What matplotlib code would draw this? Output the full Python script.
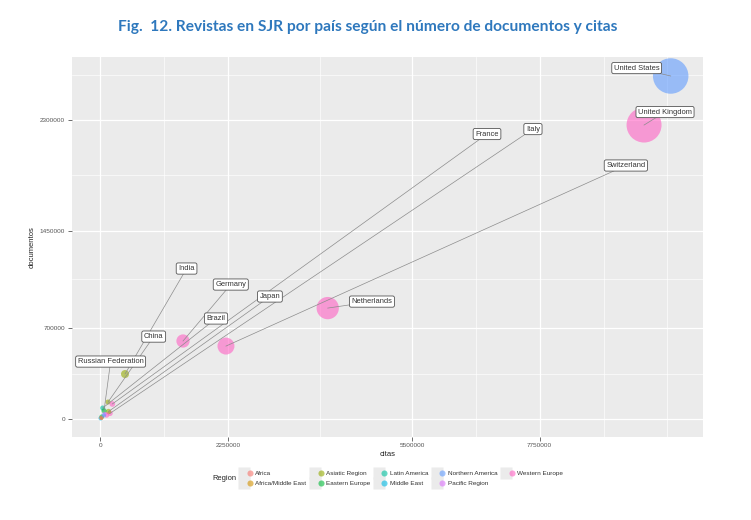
import matplotlib
matplotlib.use("Agg")
import matplotlib.pyplot as plt
import numpy as np
from matplotlib.lines import Line2D
from matplotlib.legend_handler import HandlerTuple
from matplotlib.ticker import FixedLocator, FuncFormatter

# ---------------- data ----------------
paises = ["United States", "United Kingdom", "Netherlands", "Switzerland", "Germany",
          "India", "China", "France", "Italy", "Japan", "Brazil", "Russian Federation",
          "Spain", "Poland", "Iran", "Egypt", "South Africa", "Australia", "Canada"]
region = ["Northern America", "Western Europe", "Western Europe", "Western Europe",
          "Western Europe", "Asiatic Region", "Asiatic Region", "Western Europe",
          "Western Europe", "Asiatic Region", "Latin America", "Eastern Europe",
          "Western Europe", "Eastern Europe", "Middle East", "Africa/Middle East",
          "Africa", "Pacific Region", "Northern America"]
citas = [10060000, 9590000, 4010000, 2215000, 1457000,
         434000, 134000, 210000, 170000, 143000, 40000, 64000,
         110000, 23000, 5000, 20000, 15000, 75000, 60000]
documentos = [2639000, 2262000, 855000, 563000, 602000,
              348000, 133000, 118000, 46000, 60000, 87000, 66000,
              33000, 20000, 8000, 12000, 10000, 40000, 30000]
n_revistas = [3500, 3400, 1380, 800, 490,
              180, 70, 90, 80, 80, 70, 70,
              80, 60, 55, 45, 45, 55, 55]
etiquetados = ["United States", "United Kingdom", "France", "Italy", "Switzerland",
               "Netherlands", "Japan", "Germany", "Brazil", "India", "China",
               "Russian Federation"]

regiones = ["Africa", "Africa/Middle East", "Asiatic Region", "Eastern Europe",
            "Latin America", "Middle East", "Northern America", "Pacific Region",
            "Western Europe"]

# ---------------- layout / style ----------------
colores = dict(zip(regiones, ["#F8766D", "#D39200", "#93AA00", "#00BA38", "#00C19F",
                              "#00B9E3", "#619CFF", "#DB72FB", "#FF61C3"]))
pos_etiqueta = {
    "United States": (9.46e6, 2.70e6),
    "United Kingdom": (9.96e6, 2.362e6),
    "France": (6.82e6, 2.193e6),
    "Italy": (7.63e6, 2.231e6),
    "Switzerland": (9.27e6, 1.951e6),
    "Netherlands": (4.79e6, 0.905e6),
    "Japan": (2.99e6, 0.944e6),
    "Germany": (2.30e6, 1.036e6),
    "Brazil": (2.04e6, 0.775e6),
    "India": (1.52e6, 1.159e6),
    "China": (0.94e6, 0.636e6),
    "Russian Federation": (0.18e6, 0.444e6),
}
FONT = ["Liberation Sans", "DejaVu Sans"]
plt.rcParams["font.family"] = FONT

W, H = 751, 520
fig = plt.figure(figsize=(W / 100, H / 100), dpi=100)
fig.patch.set_facecolor("white")
L, R, T, B = 71.5, 703, 57, 436.5
ax = fig.add_axes([L / W, 1 - B / H, (R - L) / W, (B - T) / H])
ax.set_facecolor("#EBEBEB")
for s in ax.spines.values():
    s.set_visible(False)
ax.set_xlim(-0.51e6, 10.63e6)
ax.set_ylim(-0.132e6, 2.785e6)

xt = [0, 2250000, 5500000, 7750000]
yt = [0, 700000, 1450000, 2300000]
ax.xaxis.set_major_locator(FixedLocator(xt))
ax.yaxis.set_major_locator(FixedLocator(yt))
ax.xaxis.set_minor_locator(FixedLocator([1125000, 3875000, 6625000, 8875000, 10000000]))
ax.yaxis.set_minor_locator(FixedLocator([350000, 1075000, 1875000, 2650000]))
fmt = FuncFormatter(lambda v, p: "%d" % int(round(v)))
ax.xaxis.set_major_formatter(fmt)
ax.yaxis.set_major_formatter(fmt)
ax.grid(which="major", color="white", lw=0.9)
ax.grid(which="minor", color="white", lw=0.45)
ax.set_axisbelow(True)
ax.tick_params(which="major", length=2.75, width=0.5, color="#333333",
               labelsize=4.6, labelcolor="#555555", pad=1.8)
ax.tick_params(which="minor", length=0)
ax.set_xlabel("citas", fontsize=5.5, color="#222222", labelpad=2)
ax.set_ylabel("documentos", fontsize=5.5, color="#222222", labelpad=3)

# points
d_px = 36 * np.sqrt(np.array(n_revistas) / 3600.0)
sizes = (d_px * 0.72) ** 2
ax.scatter(citas, documentos, s=sizes, c=[colores[r] for r in region],
           alpha=0.6, edgecolors="none", zorder=2)

# repel-style labels
for name in etiquetados:
    i = paises.index(name)
    lx, ly = pos_etiqueta[name]
    ax.plot([citas[i], lx], [documentos[i], ly], color="#8C8C8C", lw=0.5, zorder=3)
    ax.text(lx, ly, name, ha="center", va="center", fontsize=5.4, color="#333333",
            bbox=dict(boxstyle="round,pad=0.28,rounding_size=0.25", fc="white",
                      ec="#555555", lw=0.6), zorder=4)

# legend
handles = []
for r in regiones:
    bg = Line2D([], [], marker="s", ms=8.8, color="#EBEBEB", ls="", mec="none")
    dot = Line2D([], [], marker="o", ms=4.4, color=colores[r], alpha=0.6, ls="", mec="none")
    handles.append((bg, dot))
leg = fig.legend(handles, regiones, handler_map={tuple: HandlerTuple(ndivide=None)},
                 loc="center", bbox_to_anchor=(402 / W, 1 - 478.5 / H), ncol=5,
                 frameon=False, fontsize=4.6, handlelength=1.8, handletextpad=0.35,
                 columnspacing=0.9, labelspacing=0.65, borderpad=0)
for t in leg.get_texts():
    t.set_color("#333333")
fig.text(212 / W, 1 - 479 / H, "Region", fontsize=5.4, color="#222222",
         ha="left", va="center")

# title
title = "Fig.  12. Revistas en SJR por país según el número de documentos y citas"
tt = fig.text(368 / W, 1 - 27 / H, title, ha="center", va="center", fontsize=11,
              fontweight="bold", color="#2E78BD", family=["Lato", "DejaVu Sans"])
fig.canvas.draw()
w = tt.get_window_extent().width
tt.set_fontsize(11 * 500.0 / w)

fig.savefig("out.png", dpi=100, facecolor="white")
